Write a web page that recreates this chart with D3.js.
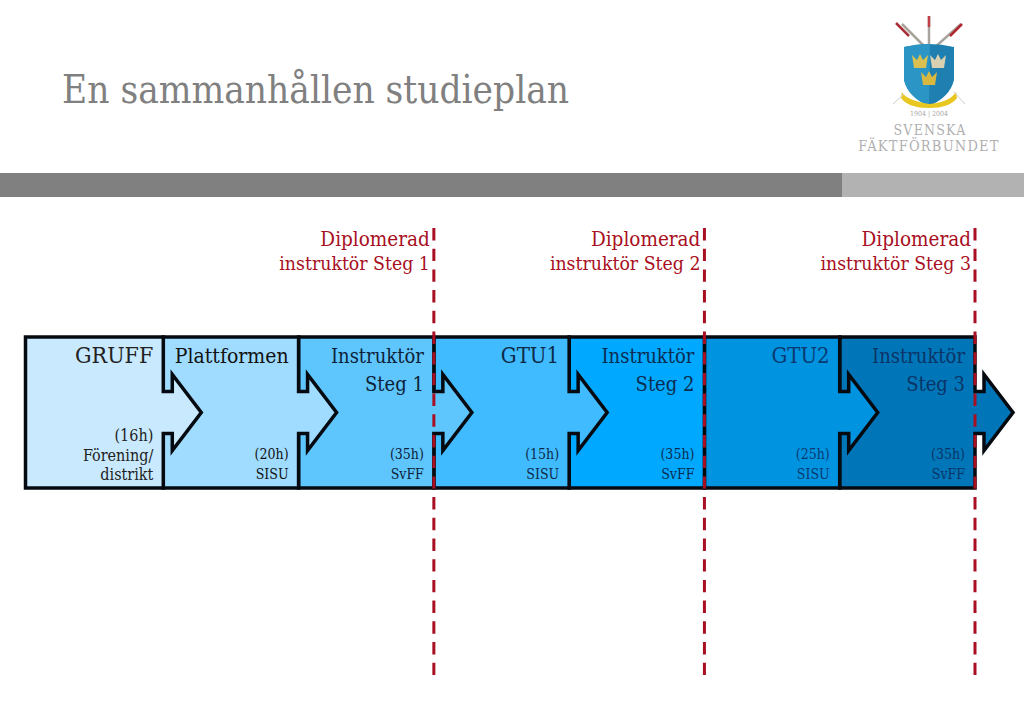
<!DOCTYPE html>
<head>
    <meta charset="utf-8">
    <script src="https://cdn.jsdelivr.net/npm/d3@7"></script>
    <style type="text/css">
        html, body { margin: 0; padding: 0; background: #fff; overflow: hidden; }
        text { font-family: "DejaVu Serif Condensed", "DejaVu Serif", serif; }
    </style>
</head>
<body>
<svg id="chart" width="1024" height="709"></svg>
</body>
<script>

var stages = ["GRUFF", "Plattformen", "Instruktör 1", "GTU1", "Instruktör 2", "GTU2", "Instruktör 3"];
var titleLines = [["GRUFF"], ["Plattformen"], ["Instruktör", "Steg 1"], ["GTU1"], ["Instruktör", "Steg 2"], ["GTU2"], ["Instruktör", "Steg 3"]];
var hours = [16, 20, 35, 15, 35, 25, 35];
var providers = [["Förening/", "distrikt"], ["SISU"], ["SvFF"], ["SISU"], ["SvFF"], ["SISU"], ["SvFF"]];
var fills = ["#c9eafe", "#a0dcff", "#5fc5fd", "#40bbff", "#00a8ff", "#0093e0", "#0076b8"];
var textColors = ["#222", "#111", "#0c2238", "#0c2a48", "#0a2c50", "#0a3a70", "#0a3466"];
var diplomas = ["Steg 1", "Steg 2", "Steg 3"];
var diplomaStages = ["Instruktör 1", "Instruktör 2", "Instruktör 3"];
var noArrowStages = ["Instruktör 2"];

var svg = d3.select("#chart");
var red = "#a80f22";

var x = d3.scaleBand().domain(stages).range([28, 975]);
var boxTop = 337, boxBottom = 488;
var mid = (boxTop + boxBottom) / 2;

// header
svg.append("text").attr("x", 62).attr("y", 103)
    .attr("font-size", 38.4).attr("fill", "#808080").text("En sammanhållen studieplan");
svg.append("rect").attr("x", 0).attr("y", 173).attr("width", 842).attr("height", 24).attr("fill", "#808080");
svg.append("rect").attr("x", 842).attr("y", 173).attr("width", 182).attr("height", 24).attr("fill", "#b2b2b2");

drawLogo(svg.append("g"));

function titleSize(line) {
    if (line == "GRUFF") return 23;
    if (line == "Plattformen") return 21;
    if (line.indexOf("GTU") == 0) return 22;
    return 20;
}

// drawn last to first so every arrow lies over the next stage
function stagePath(name, i) {
    var left = i == 0 ? 25.5 : x(name);
    var right = x(name) + x.bandwidth();
    var arrow = [[right, mid - 21], [right + 9, mid - 21], [right + 9, mid - 38],
        [right + 38, mid], [right + 9, mid + 38], [right + 9, mid + 21], [right, mid + 21]];
    if (noArrowStages.indexOf(name) >= 0) {
        arrow = [];
    }
    return d3.line()([[left, boxTop], [right, boxTop]].concat(arrow, [[right, boxBottom], [left, boxBottom]])) + "Z";
}

svg.append("g").selectAll("path")
    .data(stages.slice().reverse())
    .enter()
    .append("path")
    .attr("d", function (d) { return stagePath(d, stages.indexOf(d)); })
    .attr("fill", function (d) { return fills[stages.indexOf(d)]; })
    .attr("stroke", "#050a10")
    .attr("stroke-width", 3.5)
    .attr("stroke-linejoin", "miter");

var labels = svg.append("g").attr("text-anchor", "end")
    .selectAll("g")
    .data(stages)
    .enter()
    .append("g")
    .attr("fill", function (d, i) { return textColors[i]; })
    .attr("transform", function (d) { return "translate(" + (x(d) + x.bandwidth() - 10) + ",0)"; });

labels.each(function (d, i) {
    var g = d3.select(this);
    titleLines[i].forEach(function (line, k) {
        g.append("text").attr("y", 363 + k * 28).attr("font-size", titleSize(line)).text(line);
    });
    var lines = ["(" + hours[i] + "h)"].concat(providers[i]);
    var start = lines.length == 3 ? 441 : 459;
    lines.forEach(function (line, k) {
        g.append("text").attr("y", start + k * 19.5).attr("font-size", lines.length == 3 ? 16 : 14).text(line);
    });
});

// diploma markers
var markers = svg.append("g").selectAll("g")
    .data(diplomaStages)
    .enter()
    .append("g")
    .attr("transform", function (d) { return "translate(" + (x(d) + x.bandwidth()) + ",0)"; });

markers.append("line")
    .attr("y1", 228).attr("y2", 676)
    .attr("stroke", red).attr("stroke-width", 3).attr("stroke-dasharray", "12.4 8.3");

markers.append("text").attr("x", -4).attr("y", 246).attr("text-anchor", "end")
    .attr("font-size", 20.5).attr("fill", red).text("Diplomerad");

markers.append("text").attr("x", -4).attr("y", 270).attr("text-anchor", "end")
    .attr("font-size", 19.3).attr("fill", red)
    .text(function (d, i) { return "instruktör " + diplomas[i]; });

function drawLogo(g) {
    // foils behind the shield
    [["M902 24L926 48", "#a8a39c"], ["M929 16L929 45", "#a8a39c"], ["M961 24L934 48", "#a8a39c"]].forEach(function (s) {
        g.append("path").attr("d", s[0]).attr("stroke", s[1]).attr("stroke-width", 2.5).attr("fill", "none");
    });
    g.append("path").attr("d", "M896 23L909 36").attr("stroke", "#a83038").attr("stroke-width", 2.5);
    g.append("path").attr("d", "M929 16L929 27").attr("stroke", "#c04048").attr("stroke-width", 2.5);
    g.append("path").attr("d", "M962 24L950 36").attr("stroke", "#b02830").attr("stroke-width", 2.5);
    g.append("path").attr("d", "M904 47Q929 41 954 47L954 80Q950 97 929 106Q908 97 904 80Z").attr("fill", "#1f7fb0");
    g.append("path").attr("d", "M904 47Q917 44 930 44L929 106Q908 97 904 80Z").attr("fill", "#2b95c6");
    // crowns
    [[920, 62, "#d9c050"], [938, 62, "#d8d0b0"], [929, 79, "#d9b840"]].forEach(function (c) {
        g.append("path")
            .attr("d", d3.line()([[c[0] - 8, c[1] - 7], [c[0] - 3, c[1] - 2], [c[0], c[1] - 8], [c[0] + 3, c[1] - 2],
                [c[0] + 8, c[1] - 7], [c[0] + 6, c[1] + 6], [c[0] - 6, c[1] + 6]]) + "Z")
            .attr("fill", c[2]);
    });
    // ribbon
    g.append("path").attr("d", "M902 92Q906 100 929 104Q950 102 956 92L957 98Q950 108 929 108Q908 108 901 98Z")
        .attr("fill", "#e8c820");
    g.append("path").attr("d", "M893 104L904 94M965 104L954 92").attr("stroke", "#cfcfc8").attr("stroke-width", 1);
    g.append("text").attr("x", 929).attr("y", 116).attr("text-anchor", "middle")
        .attr("font-size", 7).attr("fill", "#aaa").text("1904 | 2004");
    g.append("text").attr("x", 930).attr("y", 134.5).attr("text-anchor", "middle")
        .attr("font-size", 14).attr("letter-spacing", 1.2).attr("fill", "#b0b0b0").text("SVENSKA");
    g.append("text").attr("x", 929).attr("y", 151).attr("text-anchor", "middle")
        .attr("font-size", 14.5).attr("letter-spacing", 1.2).attr("fill", "#b0b0b0").text("FÄKTFÖRBUNDET");
}

</script>
